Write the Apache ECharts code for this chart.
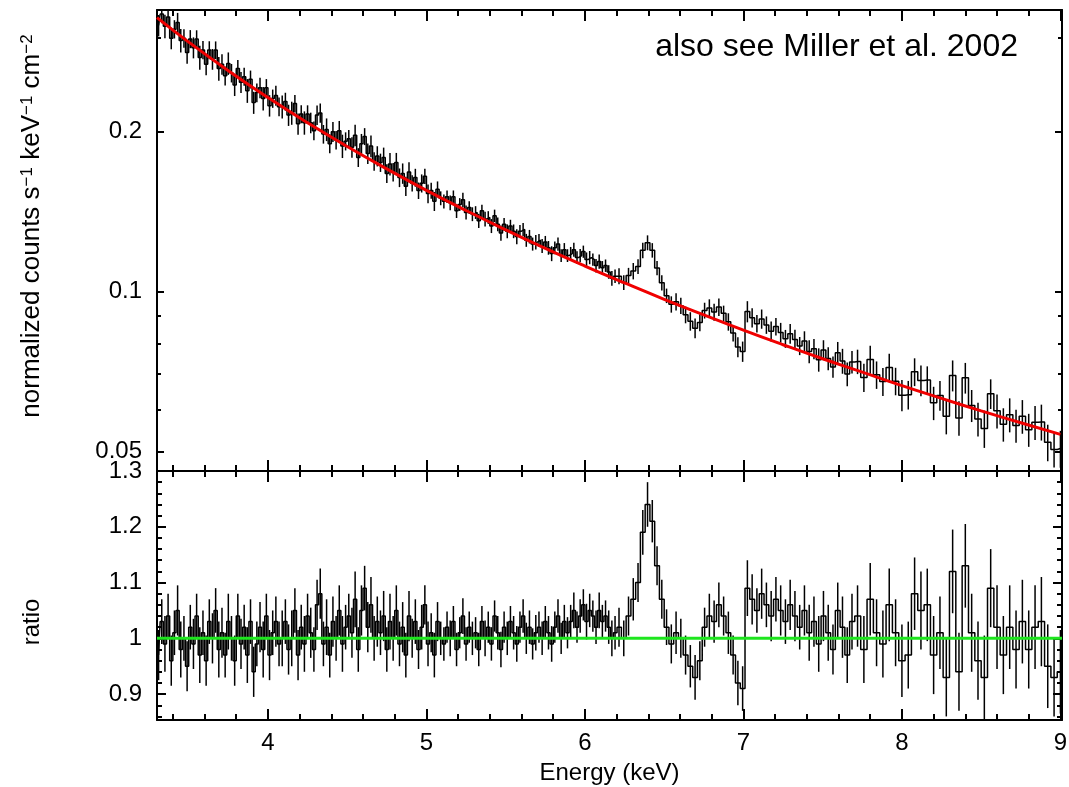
<!DOCTYPE html>
<html>
<head>
<meta charset="utf-8">
<title>Fe K region spectrum and ratio</title>
<script src="https://cdn.jsdelivr.net/npm/echarts@6/dist/echarts.min.js"></script>
<style>
  html, body { margin: 0; background: #fff; }
  #chart { width: 1069px; height: 787px; }
</style>
</head>
<body>
<div id="chart"></div>
<script>
// energy binning: [first edge (keV), bin width (keV), number of bins]
const binSegments = [[3.30, 0.02, 145], [6.20, 0.03, 50], [7.70, 0.04, 33]]

// data / model ratio, one value per bin
const ratioLow = [
  0.97, 1.03, 0.99, 1.04, 0.96, 1.01, 1.05, 0.98, 1.00, 0.95,
  1.02, 0.99, 1.04, 0.97, 1.01, 0.96, 1.03, 1.00, 1.05, 0.98,
  1.01, 0.97, 1.03, 1.00, 0.96, 1.04, 0.99, 1.02, 0.97, 1.03,
  0.94, 0.99, 1.02, 0.98, 1.04, 0.97, 1.01, 1.03, 0.99, 1.00,
  1.03, 0.98, 1.00, 1.05, 0.97, 1.02, 0.99, 1.04, 1.01, 0.98,
  1.06, 1.08, 0.99, 1.02, 0.97, 1.03, 1.00, 1.05, 0.99, 1.02,
  1.04, 1.01, 1.07, 0.98, 1.05, 1.09, 1.02, 1.06, 1.00, 1.03,
  1.01, 1.04, 0.98, 1.03, 1.00, 1.05, 0.99, 1.02, 0.97, 1.04,
  1.00, 1.03, 0.98, 1.02, 1.06, 0.99, 1.01, 0.97, 1.03, 1.00,
  0.99, 1.02, 1.00, 1.03, 0.98, 1.01, 1.04, 0.99, 1.02, 1.00,
  1.01, 0.98, 1.03, 1.00, 1.02, 0.99, 1.04, 1.01, 0.98, 1.02,
  1.00, 1.03, 1.01, 0.99, 1.02, 1.04, 1.00, 1.02, 0.99, 1.01,
  1.02, 1.00, 1.03, 1.01, 0.99, 1.02, 1.04, 1.00, 1.03, 1.01,
  1.03, 1.05, 1.02, 1.04, 1.06, 1.03, 1.05, 1.04, 1.02, 1.05,
  1.03, 1.04, 1.02, 1.00, 1.01
]
const ratioMid = [
  1.02, 1.00, 1.04, 1.07, 1.10, 1.19, 1.24, 1.21, 1.13, 1.07,
  1.02, 0.99, 1.01, 1.00, 0.97, 0.95, 0.93, 0.96, 1.02, 1.04,
  1.03, 1.06, 1.04, 1.01, 0.97, 0.92, 0.91, 1.09, 1.07, 1.05,
  1.08, 1.06, 1.04, 1.07, 1.05, 1.03, 1.06, 1.04, 1.02, 1.05,
  1.01, 1.03, 0.99, 1.04, 1.01, 0.98, 1.05, 1.02, 0.97, 1.03
]
const ratioHigh = [
  1.04, 0.98, 1.07, 1.01, 0.99, 1.06, 1.01, 0.96, 0.97, 1.08,
  1.05, 1.06, 0.97, 1.01, 0.93, 1.12, 0.94, 1.13, 1.01, 0.96,
  0.93, 1.09, 1.02, 0.97, 1.02, 0.98, 1.03, 0.98, 1.02, 1.03,
  0.95, 0.93, 0.94
]

// 1-sigma error of the ratio, one value per bin
const ratioErrLow = [
  0.045, 0.04, 0.05, 0.04, 0.045, 0.04, 0.045, 0.05, 0.04, 0.045,
  0.04, 0.045, 0.04, 0.05, 0.04, 0.045, 0.04, 0.045, 0.04, 0.05,
  0.045, 0.04, 0.05, 0.04, 0.045, 0.04, 0.045, 0.04, 0.05, 0.04,
  0.045, 0.04, 0.045, 0.05, 0.04, 0.045, 0.04, 0.045, 0.04, 0.05,
  0.04, 0.045, 0.05, 0.04, 0.045, 0.04, 0.05, 0.04, 0.045, 0.04,
  0.045, 0.045, 0.04, 0.05, 0.04, 0.045, 0.04, 0.045, 0.05, 0.04,
  0.04, 0.045, 0.05, 0.04, 0.045, 0.04, 0.045, 0.05, 0.04, 0.045,
  0.04, 0.045, 0.04, 0.05, 0.04, 0.045, 0.04, 0.045, 0.04, 0.045,
  0.035, 0.04, 0.035, 0.04, 0.035, 0.04, 0.035, 0.04, 0.035, 0.03,
  0.03, 0.028, 0.032, 0.028, 0.03, 0.028, 0.032, 0.03, 0.028, 0.03,
  0.028, 0.03, 0.028, 0.032, 0.028, 0.03, 0.028, 0.03, 0.032, 0.028,
  0.03, 0.028, 0.03, 0.032, 0.028, 0.03, 0.028, 0.03, 0.028, 0.032,
  0.028, 0.03, 0.028, 0.03, 0.032, 0.028, 0.03, 0.028, 0.03, 0.028,
  0.03, 0.032, 0.028, 0.03, 0.028, 0.032, 0.03, 0.028, 0.03, 0.032,
  0.03, 0.028, 0.03, 0.032, 0.03
]
const ratioErrMid = [
  0.035, 0.032, 0.035, 0.038, 0.035, 0.04, 0.04, 0.038, 0.035, 0.035,
  0.032, 0.035, 0.038, 0.035, 0.035, 0.038, 0.04, 0.035, 0.035, 0.04,
  0.038, 0.04, 0.035, 0.038, 0.035, 0.04, 0.04, 0.05, 0.045, 0.04,
  0.045, 0.04, 0.045, 0.04, 0.045, 0.04, 0.045, 0.045, 0.04, 0.045,
  0.05, 0.045, 0.05, 0.045, 0.05, 0.045, 0.05, 0.055, 0.05, 0.05
]
const ratioErrHigh = [
  0.055, 0.06, 0.065, 0.06, 0.06, 0.065, 0.06, 0.065, 0.06, 0.065,
  0.07, 0.065, 0.07, 0.065, 0.07, 0.075, 0.07, 0.075, 0.07, 0.07,
  0.075, 0.07, 0.075, 0.07, 0.075, 0.07, 0.075, 0.07, 0.075, 0.08,
  0.075, 0.07, 0.075
]

// normalized counts s^-1 keV^-1 cm^-2, one value per bin
const countsLow = [
  0.317, 0.333, 0.316, 0.329, 0.300, 0.312, 0.321, 0.297, 0.300, 0.282,
  0.299, 0.288, 0.299, 0.276, 0.285, 0.268, 0.285, 0.274, 0.285, 0.263,
  0.268, 0.255, 0.269, 0.258, 0.245, 0.263, 0.248, 0.254, 0.239, 0.251,
  0.227, 0.237, 0.242, 0.231, 0.242, 0.224, 0.231, 0.234, 0.223, 0.223,
  0.228, 0.215, 0.217, 0.226, 0.207, 0.216, 0.208, 0.216, 0.208, 0.201,
  0.215, 0.217, 0.198, 0.202, 0.190, 0.200, 0.193, 0.201, 0.188, 0.192,
  0.194, 0.187, 0.197, 0.179, 0.190, 0.196, 0.182, 0.188, 0.176, 0.180,
  0.175, 0.179, 0.167, 0.174, 0.168, 0.175, 0.164, 0.167, 0.158, 0.168,
  0.160, 0.164, 0.155, 0.160, 0.165, 0.153, 0.155, 0.148, 0.156, 0.150,
  0.148, 0.151, 0.147, 0.151, 0.142, 0.146, 0.149, 0.141, 0.144, 0.140,
  0.141, 0.136, 0.142, 0.137, 0.138, 0.133, 0.139, 0.134, 0.129, 0.134,
  0.130, 0.133, 0.130, 0.127, 0.130, 0.131, 0.125, 0.127, 0.123, 0.124,
  0.125, 0.122, 0.124, 0.121, 0.118, 0.121, 0.123, 0.117, 0.120, 0.117,
  0.118, 0.120, 0.116, 0.117, 0.119, 0.115, 0.116, 0.115, 0.112, 0.114,
  0.111, 0.112, 0.109, 0.106, 0.107
]
const countsMid = [
  0.1070, 0.1041, 0.1073, 0.1094, 0.1116, 0.1197, 0.1237, 0.1197, 0.1108, 0.1040,
  0.0983, 0.0947, 0.0958, 0.0941, 0.0905, 0.0880, 0.0854, 0.0875, 0.0922, 0.0932,
  0.0916, 0.0936, 0.0911, 0.0878, 0.0836, 0.0787, 0.0772, 0.0918, 0.0894, 0.0871,
  0.0889, 0.0866, 0.0843, 0.0860, 0.0838, 0.0816, 0.0834, 0.0813, 0.0791, 0.0808,
  0.0772, 0.0781, 0.0745, 0.0777, 0.0749, 0.0722, 0.0768, 0.0741, 0.0700, 0.0738
]
const countsHigh = [
  0.0739, 0.0690, 0.0746, 0.0698, 0.0678, 0.0720, 0.0679, 0.0639, 0.0640, 0.0707,
  0.0681, 0.0682, 0.0618, 0.0638, 0.0583, 0.0696, 0.0579, 0.0689, 0.0611, 0.0576,
  0.0553, 0.0643, 0.0597, 0.0563, 0.0587, 0.0560, 0.0583, 0.0550, 0.0568, 0.0569,
  0.0521, 0.0505, 0.0507
]

// continuum model (red curve)
const modelEnergy = [3.3, 3.5, 3.75, 4.0, 4.25, 4.5, 4.75, 5.0, 5.25, 5.5, 5.75, 6.0,
  6.25, 6.5, 6.75, 7.0, 7.25, 7.5, 7.75, 8.0, 8.25, 8.5, 8.75, 9.0]
const modelCounts = [0.328, 0.295, 0.2606, 0.232, 0.208, 0.1877, 0.1703, 0.1552, 0.1422, 0.1308,
  0.1207, 0.1118, 0.1039, 0.0968, 0.0905, 0.0847, 0.0795, 0.0748, 0.0706, 0.0666,
  0.0630, 0.0597, 0.0567, 0.0539]

// unity line of the ratio panel (green)
const unityEnergy = [3.3, 9.01]
const unityRatio = [1, 1]

// axis ranges and ticks
const energyRange = [3.3, 9.01]
const countsRange = [0.046, 0.339]
const ratioRange = [0.8536, 1.3]
const energyMajor = [4, 5, 6, 7, 8, 9]
const energyMinor = [3.4, 3.6, 3.8, 4.2, 4.4, 4.6, 4.8, 5.2, 5.4, 5.6, 5.8, 6.2, 6.4,
  6.6, 6.8, 7.2, 7.4, 7.6, 7.8, 8.2, 8.4, 8.6, 8.8]
const countsMajor = [0.05, 0.1, 0.2]
const countsMinor = [0.06, 0.07, 0.08, 0.09, 0.3]
const ratioMajor = [0.9, 1, 1.1, 1.2, 1.3]
const ratioMinor = [0.86, 0.88, 0.92, 0.94, 0.96, 0.98, 1.02, 1.04, 1.06, 1.08,
  1.12, 1.14, 1.16, 1.18, 1.22, 1.24, 1.26, 1.28]

const ink = '#000'
const font = '"Liberation Sans", Arial, Helvetica, sans-serif'

const energy = []
binSegments.forEach(([start, width, count]) => {
  for (let i = 0; i < count; i++) energy.push(+(start + width * (i + 0.5)).toFixed(3))
})
const ratio = ratioLow.concat(ratioMid, ratioHigh)
const ratioErr = ratioErrLow.concat(ratioErrMid, ratioErrHigh)
const counts = countsLow.concat(countsMid, countsHigh)

const ratioPoints = energy.map((e, i) => [e, ratio[i]])
const ratioBars = energy.map((e, i) => [e, ratio[i] - ratioErr[i], ratio[i] + ratioErr[i]])
const countPoints = energy.map((e, i) => [e, counts[i]])
// same relative error in both panels
const countBars = energy.map((e, i) => {
  const err = counts[i] * ratioErr[i] / ratio[i]
  return [e, counts[i] - err, counts[i] + err]
})
const modelPoints = modelEnergy.map((e, i) => [e, modelCounts[i]])
const unityPoints = unityEnergy.map((e, i) => [e, unityRatio[i]])

function tickLabel(v) {
  return String(+Number(v).toPrecision(4))
}

function ticks(values, length) {
  return { show: true, inside: true, length, customValues: values, lineStyle: { color: ink, width: 2 } }
}

const frameLine = { show: true, onZero: false, lineStyle: { color: ink, width: 2 } }
const labelStyle = { color: ink, fontFamily: font, fontSize: 24 }

function axis(extra) {
  return Object.assign({
    type: 'value',
    axisLine: { show: false },
    axisTick: { show: false },
    axisLabel: { show: false },
    splitLine: { show: false },
    silent: true
  }, extra)
}

function energyAxes(gridIndex, withLabels) {
  const base = { gridIndex, min: energyRange[0], max: energyRange[1] }
  const bottom = axis({ ...base, position: 'bottom', axisLine: frameLine, axisTick: ticks(energyMajor, 11) })
  if (withLabels) {
    bottom.axisLabel = { show: true, ...labelStyle, margin: 11, customValues: energyMajor, formatter: tickLabel }
    bottom.name = 'Energy (keV)'
    bottom.nameLocation = 'middle'
    bottom.nameGap = 41
    bottom.nameTextStyle = { ...labelStyle }
  }
  return [
    bottom,
    axis({ ...base, position: 'bottom', axisTick: ticks(energyMinor, 6) }),
    axis({ ...base, position: 'top', axisLine: frameLine, axisTick: ticks(energyMajor, 11) }),
    axis({ ...base, position: 'top', axisTick: ticks(energyMinor, 6) })
  ]
}

function valueAxes(gridIndex, type, range, major, minor, majorLen, minorLen, title) {
  const base = { gridIndex, type, min: range[0], max: range[1] }
  return [
    axis({
      ...base, position: 'left', axisLine: frameLine, axisTick: ticks(major, majorLen),
      axisLabel: { show: true, ...labelStyle, margin: 15, customValues: major, formatter: tickLabel },
      ...title
    }),
    axis({ ...base, position: 'left', axisTick: ticks(minor, minorLen) }),
    axis({ ...base, position: 'right', axisLine: frameLine, axisTick: ticks(major, majorLen) }),
    axis({ ...base, position: 'right', axisTick: ticks(minor, minorLen) })
  ]
}

function errorBar(params, api) {
  const x = api.value(0)
  const low = api.coord([x, api.value(1)])
  const high = api.coord([x, api.value(2)])
  return {
    type: 'line',
    shape: { x1: low[0], y1: low[1], x2: high[0], y2: high[1] },
    style: { stroke: ink, lineWidth: 1.5 }
  }
}

const chart = echarts.init(document.getElementById('chart'), null, { renderer: 'canvas' })

chart.setOption({
  animation: false,
  backgroundColor: '#fff',
  title: {
    text: 'also see Miller et al. 2002',
    right: 51,
    top: 31,
    padding: 0,
    textStyle: { color: ink, fontFamily: font, fontSize: 32, fontWeight: 'normal' }
  },
  grid: [
    { left: 157, top: 10, width: 905, height: 461, outerBoundsMode: 'none' },
    { left: 157, top: 471, width: 905, height: 249, outerBoundsMode: 'none' }
  ],
  xAxis: energyAxes(0, false).concat(energyAxes(1, true)),
  yAxis: valueAxes(0, 'log', countsRange, countsMajor, countsMinor, 7, 4, {
    name: 'normalized counts s{sup|−1} keV{sup|−1} cm{sup|−2}',
    nameLocation: 'middle',
    nameGap: 112,
    nameTextStyle: {
      ...labelStyle,
      fontSize: 26,
      padding: [0, 0, 0, 29],
      rich: { sup: { color: ink, fontFamily: font, fontSize: 17, verticalAlign: 'top' } }
    }
  }).concat(valueAxes(1, 'value', ratioRange, ratioMajor, ratioMinor, 9, 5, {
    name: 'ratio',
    nameLocation: 'middle',
    nameGap: 113,
    nameTextStyle: { ...labelStyle, padding: [0, 53, 0, 0] }
  })),
  series: [
    {
      type: 'line', xAxisIndex: 0, yAxisIndex: 0, data: countPoints, step: 'middle',
      symbol: 'none', silent: true, z: 2, lineStyle: { color: ink, width: 1.5 }
    },
    {
      type: 'custom', xAxisIndex: 0, yAxisIndex: 0, data: countBars, renderItem: errorBar,
      encode: { x: 0, y: [1, 2] }, clip: true, silent: true, z: 2
    },
    {
      type: 'line', xAxisIndex: 0, yAxisIndex: 0, data: modelPoints, smooth: true,
      symbol: 'none', silent: true, z: 3, lineStyle: { color: '#f00000', width: 3 }
    },
    {
      type: 'line', xAxisIndex: 4, yAxisIndex: 4, data: ratioPoints, step: 'middle',
      symbol: 'none', silent: true, z: 2, lineStyle: { color: ink, width: 1.5 }
    },
    {
      type: 'custom', xAxisIndex: 4, yAxisIndex: 4, data: ratioBars, renderItem: errorBar,
      encode: { x: 0, y: [1, 2] }, clip: true, silent: true, z: 2
    },
    {
      type: 'line', xAxisIndex: 4, yAxisIndex: 4, data: unityPoints,
      symbol: 'none', silent: true, z: 3, lineStyle: { color: '#1ee61e', width: 3 }
    }
  ]
})
</script>
</body>
</html>
